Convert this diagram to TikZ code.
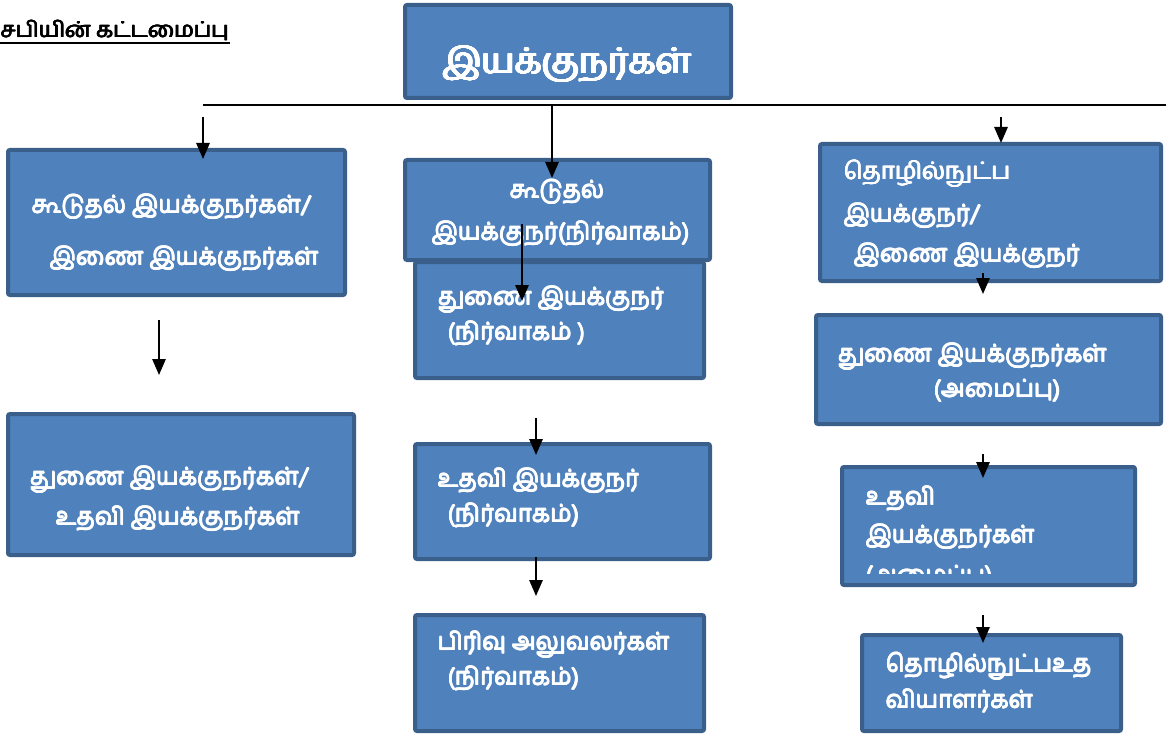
\documentclass[tikz,border=0pt]{standalone}
\usepackage{fontspec}
\setmainfont{Hind Madurai}[Script=Tamil]
\usetikzlibrary{arrows.meta,fit}
\definecolor{boxfill}{HTML}{4F81BD}
\definecolor{boxedge}{HTML}{3A5F8B}
\newcommand{\thk}[1]{\mbox{\rlap{#1}\rlap{\raisebox{0.35pt}{#1}}\rlap{\hspace{0.35pt}\raisebox{0.35pt}{#1}}\rlap{\hspace{0.35pt}#1}\hspace{0.7pt}#1}}
\tikzset{
  orgbox/.style={draw=boxedge, fill=boxfill, line width=3pt, rounded corners=1.5pt, inner sep=0pt},
  lbl/.style={anchor=base west, inner sep=0pt, text=white, font=\fontsize{18}{21}\selectfont},
  arr/.style={draw=black, line width=1.4pt, -{Triangle[length=12pt,width=10pt]}},
}
\begin{document}
\begin{tikzpicture}[x=0.75pt,y=-0.75pt]
\useasboundingbox (0,0) rectangle (1166,738);
% title
\node[anchor=base west, inner sep=0pt, font=\fontsize{16.5}{19}\selectfont] (title) at (0,38) {\thk{சபியின் கட்டமைப்பு}};
\draw[line width=1.8pt] (title.base west) ++(0,5) coordinate (ulL) -- (ulL -| title.base east);
% top box
\node[orgbox, fit={(405,5) (731,98)}] (top) {};
\node[anchor=base, inner sep=0pt, text=white, font=\fontsize{26.5}{31}\selectfont] (toplbl) at (567,74) {\thk{\thk{இயக்குநர்கள்}}};
% horizontal bar
\coordinate (barL) at (203,105);
\coordinate (barR) at (1166,105);
\draw[line width=1.4pt] (barL) -- (barR);
% left column
\node[orgbox, fit={(8,150) (345,295)}] (L1) {};
\node[lbl] (L1a) at (31,213) {\thk{கூடுதல் இயக்குநர்கள்/}};
\node[lbl] (L1b) at (49,265) {\thk{இணை இயக்குநர்கள்}};
\node[orgbox, fit={(8,414) (354,555)}] (L2) {};
\node[lbl] (L2a) at (29,485) {\thk{துணை இயக்குநர்கள்/}};
\node[lbl] (L2b) at (55,525) {\thk{உதவி இயக்குநர்கள்}};
% middle column
\node[orgbox, fit={(415,262) (704,378)}] (M2) {};
\node[orgbox, fit={(405,160) (710,260)}] (M1) {};
\node[anchor=base, inner sep=0pt, text=white, font=\fontsize{18}{21}\selectfont] (M1a) at (557,198) {\thk{கூடுதல்}};
\node[lbl] (M1b) at (431,240) {\thk{இயக்குநர்(நிர்வாகம்)}};
\node[lbl] (M2a) at (437,305) {\thk{துணை இயக்குநர்}};
\node[lbl] (M2b) at (447,340) {\thk{(நிர்வாகம் )}};
\node[orgbox, fit={(415,444) (710,559)}] (M3) {};
\node[lbl] (M3a) at (437,487) {\thk{உதவி இயக்குநர்}};
\node[lbl] (M3b) at (447,522) {\thk{(நிர்வாகம்)}};
\node[orgbox, fit={(415,615) (704,731)}] (M4) {};
\node[lbl] (M4a) at (437,650) {\thk{பிரிவு அலுவலர்கள்}};
\node[lbl] (M4b) at (447,685) {\thk{(நிர்வாகம்)}};
% right column
\node[orgbox, fit={(820,144) (1161,281)}] (R1) {};
\node[lbl] (R1a) at (843,180) {\thk{தொழில்நுட்ப}};
\node[lbl] (R1b) at (843,222) {\thk{இயக்குநர்/}};
\node[lbl] (R1c) at (853,262) {\thk{இணை இயக்குநர்}};
\node[orgbox, fit={(816,315) (1161,424)}] (R2) {};
\node[lbl] (R2a) at (837,362) {\thk{துணை இயக்குநர்கள்}};
\node[lbl] (R2b) at (933,397) {\thk{(அமைப்பு)}};
\node[orgbox, fit={(842,467) (1135,585)}] (R3) {};
\node[lbl] (R3a) at (865,505) {\thk{உதவி}};
\node[lbl] (R3b) at (865,543) {\thk{இயக்குநர்கள்}};
\begin{scope}
\clip (842,467) rectangle (1135,573);
\node[lbl] (R3c) at (865,583) {\thk{(அமைப்பு)}};
\end{scope}
\node[orgbox, fit={(862,635) (1121,731)}] (R4) {};
\node[lbl] (R4a) at (885,672) {\thk{தொழில்நுட்பஉத}};
\node[lbl] (R4b) at (885,708) {\thk{வியாளர்கள்}};
% arrows
\coordinate (a1s) at (203,117); \coordinate (a1e) at (203,159);
\coordinate (a2s) at (552,105); \coordinate (a2e) at (552,178);
\coordinate (a3s) at (1001,117); \coordinate (a3e) at (1001,143);
\coordinate (a4s) at (159,320); \coordinate (a4e) at (159,375);
\coordinate (a5s) at (522,224); \coordinate (a5e) at (522,301);
\coordinate (a6s) at (536,418); \coordinate (a6e) at (536,455);
\coordinate (a7s) at (536,557); \coordinate (a7e) at (536,596);
\coordinate (a8s) at (983,273); \coordinate (a8e) at (983,294);
\coordinate (a9s) at (983,454); \coordinate (a9e) at (983,478);
\coordinate (a10s) at (983,615); \coordinate (a10e) at (983,643);
\foreach \i in {1,...,10} { \draw[arr] (a\i s) -- (a\i e); }
\end{tikzpicture}
\end{document}
